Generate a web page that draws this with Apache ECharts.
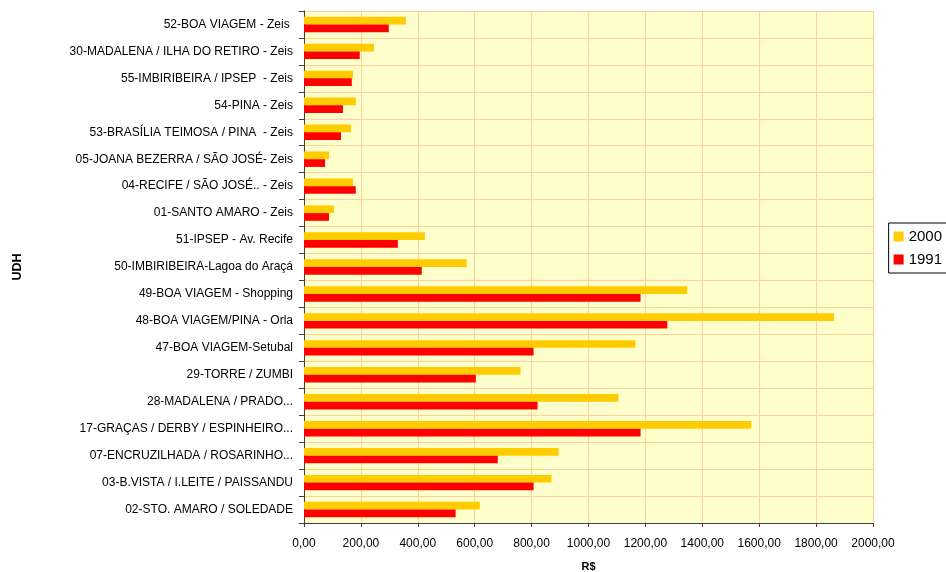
<!DOCTYPE html>
<html>
<head>
<meta charset="utf-8">
<script src="https://cdn.jsdelivr.net/npm/echarts@6/dist/echarts.min.js"></script>
<style>
  html, body { margin: 0; padding: 0; background: #ffffff; }
  #chart { width: 946px; height: 572px; }
</style>
</head>
<body>
<div id="chart"></div>
<script>
// UDH names, listed top to bottom as drawn
const categories = [
  '52-BOA VIAGEM - Zeis ',
  '30-MADALENA / ILHA DO RETIRO - Zeis',
  '55-IMBIRIBEIRA / IPSEP  - Zeis',
  '54-PINA - Zeis',
  '53-BRASÍLIA TEIMOSA / PINA  - Zeis',
  '05-JOANA BEZERRA / SÃO JOSÉ- Zeis',
  '04-RECIFE / SÃO JOSÉ.. - Zeis',
  '01-SANTO AMARO - Zeis',
  '51-IPSEP - Av. Recife',
  '50-IMBIRIBEIRA-Lagoa do Araçá',
  '49-BOA VIAGEM - Shopping',
  '48-BOA VIAGEM/PINA - Orla',
  '47-BOA VIAGEM-Setubal',
  '29-TORRE / ZUMBI',
  '28-MADALENA / PRADO...',
  '17-GRAÇAS / DERBY / ESPINHEIRO...',
  '07-ENCRUZILHADA / ROSARINHO...',
  '03-B.VISTA / I.LEITE / PAISSANDU',
  '02-STO. AMARO / SOLEDADE'
];

// Income in R$, year 2000
const values2000 = [358, 246, 172, 182, 165, 88, 172, 105, 425, 572,
                    1347, 1863, 1165, 761, 1105, 1572, 895, 870, 618];

// Income in R$, year 1991
const values1991 = [298, 196, 168, 137, 130, 74, 182, 88, 330, 414,
                    1183, 1277, 807, 604, 821, 1183, 681, 807, 533];

const xTicks = { min: 0, max: 2000, interval: 200 };

const font = '"Liberation Sans", Arial, sans-serif';

const chart = echarts.init(document.getElementById('chart'));
chart.setOption({
  animation: false,
  backgroundColor: '#ffffff',
  grid: {
    left: 304, right: 73, top: 11, bottom: 49,
    outerBoundsMode: 'none',
    containLabel: false,
    show: true,
    backgroundColor: '#FFFFCC',
    borderWidth: 0
  },
  legend: {
    orient: 'vertical',
    right: -12,
    top: 223,
    data: ['2000', '1991'],
    itemWidth: 10,
    itemHeight: 10,
    itemGap: 8,
    padding: [6, 16, 6, 5],
    borderColor: '#000000',
    borderWidth: 1,
    icon: 'rect',
    textStyle: { fontFamily: font, fontSize: 15, color: '#000' }
  },
  xAxis: {
    type: 'value',
    min: xTicks.min,
    max: xTicks.max,
    interval: xTicks.interval,
    name: 'R$',
    nameLocation: 'middle',
    nameGap: 38,
    nameTextStyle: { fontFamily: font, fontSize: 11, fontWeight: 'bold', color: '#000' },
    axisLine: { show: true, lineStyle: { color: '#404040', width: 1 } },
    axisTick: { show: true, length: 4, lineStyle: { color: '#404040' } },
    axisLabel: {
      margin: 15,
      fontFamily: font,
      fontSize: 12,
      color: '#000',
      formatter: v => v.toFixed(2).replace('.', ',')
    },
    splitLine: { show: true, lineStyle: { color: '#FFD09C', width: 1 } }
  },
  yAxis: {
    type: 'category',
    data: categories,
    inverse: true,
    name: 'UDH',
    nameLocation: 'middle',
    nameGap: 280,
    nameRotate: 90,
    nameTextStyle: { fontFamily: font, fontSize: 12.5, fontWeight: 'bold', color: '#000' },
    axisLine: { show: true, lineStyle: { color: '#404040', width: 1 } },
    axisTick: { show: true, length: 5, lineStyle: { color: '#404040' } },
    axisLabel: { margin: 11, fontFamily: font, fontSize: 12, color: '#000' },
    splitLine: { show: true, lineStyle: { color: '#FFD09C', width: 1 } }
  },
  series: [
    {
      name: '2000',
      type: 'bar',
      data: values2000,
      barWidth: 7.7,
      barGap: '0%',
      itemStyle: { color: '#FFCC00' }
    },
    {
      name: '1991',
      type: 'bar',
      data: values1991,
      barWidth: 7.7,
      barGap: '0%',
      itemStyle: { color: '#FF0000' }
    }
  ]
});
</script>
</body>
</html>
